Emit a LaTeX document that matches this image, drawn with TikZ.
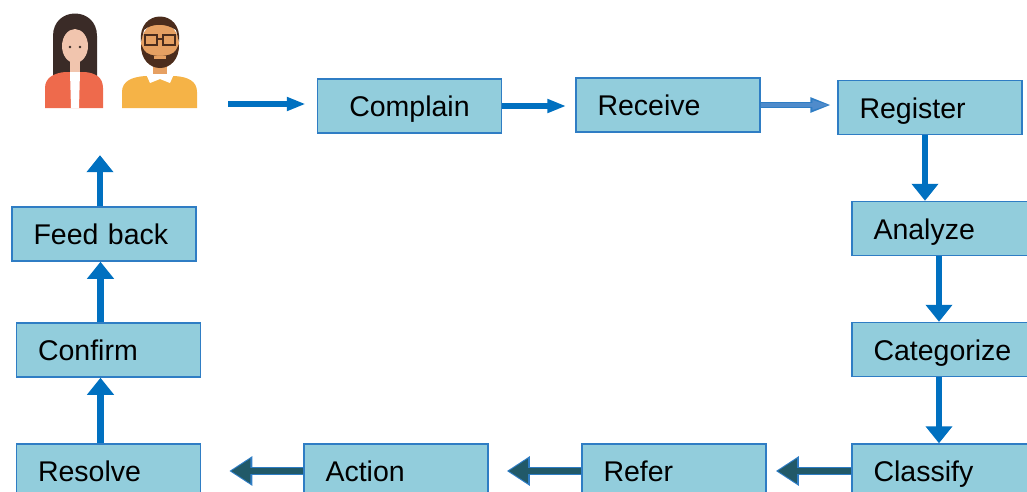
\documentclass[tikz,border=0pt]{standalone}
\usepackage{fontspec}
\setmainfont{Liberation Sans}
\usepackage{tikz}
\usetikzlibrary{arrows.meta,calc}
\definecolor{aqua}{HTML}{92CDDC}
\definecolor{edge}{HTML}{2F7DC4}
\definecolor{flowblue}{HTML}{0070C0}
\definecolor{darkteal}{HTML}{215968}
\definecolor{lightflow}{HTML}{4F8BCB}
\definecolor{hairw}{HTML}{3A2B27}
\definecolor{skinw}{HTML}{F1C5AE}
\definecolor{jacket}{HTML}{EE6A4C}
\definecolor{hairm}{HTML}{4B2C1C}
\definecolor{skinm}{HTML}{E6A062}
\definecolor{sweater}{HTML}{F5B347}

\begin{document}
\begin{tikzpicture}
	[ x=1pt, y=-1pt,
	  box/.style={ draw=edge, fill=aqua, line width=1.5pt,
	  minimum width=184pt, minimum height=54pt,
	  text width=141pt, inner xsep=21pt, align=left,
	  text height=27pt, text depth=6pt,
	  font=\fontsize{28.5}{32}\selectfont },
	  flow/.style={ draw=flowblue, line width=6.5pt, -{Triangle[width=26pt,length=17pt]} },
	  hflow/.style={ draw=flowblue, line width=6pt, -{Triangle[width=13pt,length=19pt]} },
	  rim/.style={ draw=edge, line width=8.5pt, -{Triangle[width=28pt,length=23pt]} },
	  core/.style={ draw=darkteal, line width=5.5pt, -{Triangle[width=23pt,length=19pt]} },
	  thinrim/.style={ draw=edge, line width=6pt, -{Triangle[width=14pt,length=21pt]} },
	  thincore/.style={ draw=lightflow, line width=3.5pt, -{Triangle[width=9pt,length=17pt]} }
	]
	\clip (0,0) rectangle (1027,491);

	% the two users
	\node[inner sep=0, minimum width=158pt, minimum height=98pt] (users) at (120,59) {};
	\fill[hairw] (53,76) -- (53,36) .. controls (53,6) and (97,6) .. (97,36) -- (97,76) -- cycle;
	\fill[skinw] (70,58) rectangle (80,76);
	\fill[skinw] (75,46) ellipse (13pt and 17pt);
	\fill[hairw] (62,42) .. controls (64,26) and (80,24) .. (89,38) -- (89,28) .. controls (84,16) and (66,16) .. (62,28) -- cycle;
	\fill[hairw] (70,47) circle (1.3pt) (80,47) circle (1.3pt);
	\fill[jacket] (45,108) -- (45,88) .. controls (45,77) and (55,73) .. (65,72) -- (85,72) .. controls (95,73) and (103,77) .. (103,88) -- (103,108) -- cycle;
	\fill[white] (70,72) -- (80,72) -- (79,108) -- (71,108) -- cycle;
	\fill[sweater] (122,108) -- (122,92) .. controls (122,81) and (132,77) .. (145,76) -- (175,76) .. controls (188,77) and (197,81) .. (197,92) -- (197,108) -- cycle;
	\fill[skinm] (153,60) rectangle (167,77);
	\fill[white] (146,74) -- (174,74) -- (170,83) -- (160,79) -- (150,83) -- cycle;
	\fill[skinm] (160,45) ellipse (19pt and 23pt);
	\fill[hairm] (141,42) .. controls (137,8) and (183,8) .. (179,42) -- (176,30) .. controls (166,23) and (152,23) .. (144,30) -- cycle;
	\fill[hairm] (141,44) .. controls (140,76) and (180,76) .. (179,44) -- (176,50) .. controls (172,58) and (148,58) .. (144,50) -- cycle;
	\fill[skinm] (154,56) rectangle (166,59);
	\draw[hairm, line width=1.2pt] (145,35) rectangle (157,45) (163,35) rectangle (175,45) (157,39) -- (163,39);

	% steps
	\node[box, align=center] (complain) at (409.5,106) {Complain};
	\node[box] (receive) at (668,105) {Receive};
	\node[box] (register) at (930,107.5) {Register};
	\node[box] (analyze) at (944,228.5) {Analyze};
	\node[box] (categorize) at (944,349.5) {Categorize};
	\node[box] (classify) at (944,471) {Classify};
	\node[box] (refer) at (674,471) {Refer};
	\node[box] (action) at (396,471) {Action};
	\node[box] (resolve) at (108.5,471) {Resolve};
	\node[box] (confirm) at (108.5,350) {Confirm};
	\node[box] (feedback) at (104,234) {Feed back};

	\coordinate (start) at (228,104);
	\draw[hflow, shorten >=11pt] (start) -- (start -| complain.west);
	\draw[hflow, shorten >=9pt] (complain.east) -- (complain.east -| receive.west);
	\draw[thinrim, shorten >=6pt] (receive.east) -- (receive.east -| register.west);
	\draw[thincore, shorten >=8pt] (receive.east) -- (receive.east -| register.west);

	\foreach \a/\b in {register/analyze, analyze/categorize, categorize/classify}{
		\draw[flow] ([xshift=-5pt]\a.south) -- ([xshift=-5pt]\a.south |- \b.north);
	}
	\foreach \a/\b/\s/\t in {classify/refer/9/11, refer/action/18/20, action/resolve/28/30}{
		\draw[rim, shorten >=\s pt] (\a.west) -- (\a.west -| \b.east);
		\draw[core, shorten >=\t pt] (\a.west) -- (\a.west -| \b.east);
	}
	\foreach \a/\b in {resolve/confirm, confirm/feedback}{
		\draw[flow] ([xshift=-8pt]\a.north) -- ([xshift=-8pt]\a.north |- \b.south);
	}
	\draw[flow, shorten >=47pt] ([xshift=-4pt]feedback.north) -- ([xshift=-4pt]feedback.north |- users.south);
\end{tikzpicture}
\end{document}
